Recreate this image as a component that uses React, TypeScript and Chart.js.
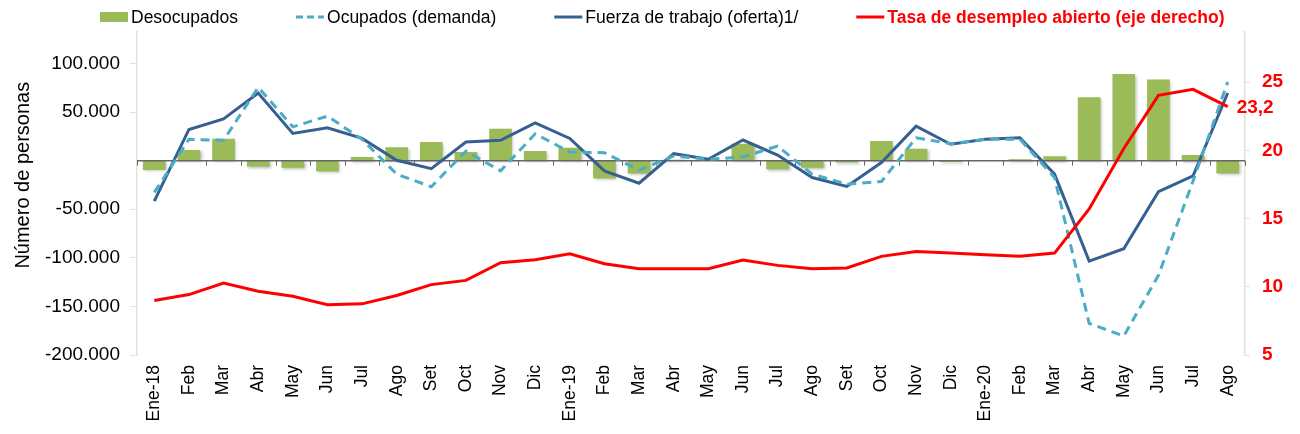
import React, { useEffect, useRef } from 'react';
import { Chart, registerables } from 'chart.js';

Chart.register(...registerables);

const categories = [
  'Ene-18', 'Feb', 'Mar', 'Abr', 'May', 'Jun', 'Jul', 'Ago', 'Set', 'Oct', 'Nov', 'Dic',
  'Ene-19', 'Feb', 'Mar', 'Abr', 'May', 'Jun', 'Jul', 'Ago', 'Set', 'Oct', 'Nov', 'Dic',
  'Ene-20', 'Feb', 'Mar', 'Abr', 'May', 'Jun', 'Jul', 'Ago',
];

const desocupados = [
  -9500, 11000, 22500, -6100, -7200, -11200, 3800, 13700, 19100, 8900, 32800, 9900,
  13300, -18400, -13300, 1000, 0, 17400, -8800, -7200, -2000, 20200, 12300, -1500,
  0, 1500, 4500, 65200, 89100, 83600, 5800, -13300,
];

const ocupados = [
  -32700, 21900, 20900, 75500, 34800, 45800, 21900, -13900, -26900, 9900, -10500, 27600,
  8900, 8200, -9800, 4800, 1400, 3800, 15000, -13900, -24200, -21500, 23500, 17400,
  21900, 22000, -17400, -167500, -180500, -118000, -21000, 80900,
];

const fuerza = [
  -41700, 32100, 43000, 69600, 28000, 33800, 22900, 400, -8200, 19100, 20900, 38900,
  22900, -10500, -23200, 7200, 1400, 21200, 5800, -17400, -26600, -2000, 35500, 16800,
  21900, 23500, -13900, -103400, -90700, -32000, -15700, 69600,
];

const tasa = [
  9.0, 9.43, 10.28, 9.67, 9.31, 8.68, 8.75, 9.36, 10.16, 10.47, 11.76, 11.99,
  12.42, 11.69, 11.33, 11.33, 11.33, 11.96, 11.57, 11.33, 11.38, 12.23, 12.59, 12.47,
  12.35, 12.23, 12.47, 15.7, 20.14, 24.03, 24.47, 23.2,
];

const leftTicks = [-200000, -150000, -100000, -50000, 50000, 100000];
const rightTicks = [5, 10, 15, 20, 25];
const lastTasaLabel = '23,2';
const yTitle = 'Número de personas';

const legendLabels = [
  'Desocupados',
  'Ocupados (demanda)',
  'Fuerza de trabajo (oferta)1/',
  'Tasa de desempleo abierto (eje derecho)',
];

const FAMILY = "'Liberation Sans', Arial, sans-serif";
const GREEN = '#9BBB59';
const LIGHTBLUE = '#4BACC6';
const DARKBLUE = '#376092';
const RED = '#FF0000';
const AXISLIGHT = '#E4E2D4';

function fmtThousands(v: number): string {
  const s = Math.abs(v).toString().replace(/\B(?=(\d{3})+(?!\d))/g, '.');
  return (v < 0 ? '-' : '') + s;
}

const decorPlugin = {
  id: 'decor',
  beforeDatasetDraw(chart: any, args: any) {
    if (args.index !== 0) return;
    const ctx = chart.ctx;
    ctx.save();
    ctx.shadowColor = 'rgba(0,0,0,0.28)';
    ctx.shadowBlur = 3;
    ctx.shadowOffsetX = 1.5;
    ctx.shadowOffsetY = 1.5;
  },
  afterDatasetDraw(chart: any, args: any) {
    if (args.index !== 0) return;
    const { ctx, chartArea, scales } = chart;
    ctx.restore();
    const y0 = scales.y.getPixelForValue(0);
    ctx.save();
    ctx.strokeStyle = '#666666';
    ctx.lineWidth = 1.5;
    ctx.beginPath();
    ctx.moveTo(chartArea.left, y0);
    ctx.lineTo(chartArea.right, y0);
    ctx.stroke();
    const n = categories.length;
    const step = (chartArea.right - chartArea.left) / n;
    ctx.lineWidth = 1;
    ctx.beginPath();
    for (let i = 0; i <= n; i++) {
      const x = Math.round(chartArea.left + i * step) + 0.5;
      ctx.moveTo(x, y0);
      ctx.lineTo(x, y0 + 5);
    }
    ctx.stroke();
    ctx.restore();
  },
  afterDraw(chart: any) {
    const ctx = chart.ctx;
    ctx.save();
    // y axis title
    const ys = chart.scales.y;
    ctx.save();
    ctx.translate(15, ys.getPixelForValue(-15000));
    ctx.rotate(-Math.PI / 2);
    ctx.font = `20px ${FAMILY}`;
    ctx.fillStyle = '#000000';
    ctx.textAlign = 'center';
    ctx.textBaseline = 'middle';
    ctx.fillText(yTitle, 0, 0);
    ctx.restore();

    // data label for last tasa point
    const meta = chart.getDatasetMeta(3);
    const pt = meta.data[meta.data.length - 1];
    ctx.font = `bold 19px ${FAMILY}`;
    ctx.fillStyle = RED;
    ctx.textAlign = 'left';
    ctx.textBaseline = 'middle';
    ctx.fillText(lastTasaLabel, pt.x + 9, pt.y + 1);

    // legend
    const y = 9;
    let x = 92;
    const markerW = 28;
    const gap = 3;
    const itemGap = 58;
    legendLabels.forEach((label, i) => {
      ctx.save();
      if (i === 0) {
        ctx.fillStyle = GREEN;
        ctx.fillRect(x, y - 5, markerW, 10);
      } else {
        ctx.lineWidth = 3;
        ctx.strokeStyle = i === 1 ? LIGHTBLUE : i === 2 ? DARKBLUE : RED;
        if (i === 1) ctx.setLineDash([7, 4]);
        ctx.beginPath();
        ctx.moveTo(x, y);
        ctx.lineTo(x + markerW, y);
        ctx.stroke();
      }
      ctx.restore();
      ctx.font = i === 3 ? `bold 17.5px ${FAMILY}` : `17.5px ${FAMILY}`;
      ctx.fillStyle = i === 3 ? RED : '#000000';
      ctx.textAlign = 'left';
      ctx.textBaseline = 'middle';
      const tx = x + markerW + gap;
      ctx.fillText(label, tx, y + 1);
      x = tx + ctx.measureText(label).width + itemGap;
    });
    ctx.restore();
  },
};

export default function App() {
  const ref = useRef<HTMLCanvasElement>(null);

  useEffect(() => {
    Chart.defaults.font.family = FAMILY;
    const chart = new Chart(ref.current as HTMLCanvasElement, {
      type: 'bar',
      data: {
        labels: categories,
        datasets: [
          {
            type: 'bar',
            label: legendLabels[0],
            data: desocupados,
            backgroundColor: GREEN,
            barPercentage: 0.655,
            categoryPercentage: 1,
            yAxisID: 'y',
            order: 4,
          },
          {
            type: 'line',
            label: legendLabels[2],
            data: fuerza,
            borderColor: DARKBLUE,
            borderWidth: 3,
            pointRadius: 0,
            tension: 0,
            yAxisID: 'y',
            order: 3,
          },
          {
            type: 'line',
            label: legendLabels[1],
            data: ocupados,
            borderColor: LIGHTBLUE,
            borderWidth: 3,
            borderDash: [9, 6],
            pointRadius: 0,
            tension: 0,
            yAxisID: 'y',
            order: 2,
          },
          {
            type: 'line',
            label: legendLabels[3],
            data: tasa,
            borderColor: RED,
            borderWidth: 3,
            pointRadius: 0,
            tension: 0,
            yAxisID: 'y1',
            order: 1,
          },
        ] as any,
      },
      options: {
        responsive: false,
        animation: false,
        devicePixelRatio: 1,
        layout: { padding: { top: 22, left: 0, right: 0, bottom: 0 } },
        plugins: {
          legend: { display: false },
          tooltip: { enabled: false },
        },
        scales: {
          x: {
            grid: { display: false },
            border: { display: false },
            ticks: {
              minRotation: 90,
              maxRotation: 90,
              autoSkip: false,
              padding: 2,
              color: '#000000',
              font: { size: 17.5, family: FAMILY },
            },
            afterFit(s: any) {
              s.height = 71;
            },
          },
          y: {
            position: 'left',
            min: -200000,
            max: 133000,
            afterBuildTicks(s: any) {
              s.ticks = leftTicks.map((v) => ({ value: v }));
            },
            ticks: {
              color: '#000000',
              font: { size: 19, family: FAMILY },
              padding: 10,
              callback: (v: any) => fmtThousands(Number(v)),
            },
            grid: {
              drawOnChartArea: false,
              color: AXISLIGHT,
              tickLength: 7,
            },
            border: { color: AXISLIGHT, width: 1.5 },
            afterFit(s: any) {
              s.width = 129;
            },
          } as any,
          y1: {
            position: 'right',
            min: 5,
            max: 28.72,
            afterBuildTicks(s: any) {
              s.ticks = rightTicks.map((v) => ({ value: v }));
            },
            ticks: {
              color: RED,
              font: { size: 19, weight: 'bold', family: FAMILY },
              padding: 12,
            },
            grid: {
              drawOnChartArea: false,
              color: AXISLIGHT,
              tickLength: 5,
            },
            border: { color: AXISLIGHT, width: 1.5 },
            afterFit(s: any) {
              s.width = 47;
            },
          } as any,
        },
      },
      plugins: [decorPlugin],
    });
    return () => chart.destroy();
  }, []);

  return (
    <div style={{ width: 1284, height: 418 }}>
      <canvas ref={ref} width={1284} height={418} style={{ display: 'block' }} />
    </div>
  );
}
